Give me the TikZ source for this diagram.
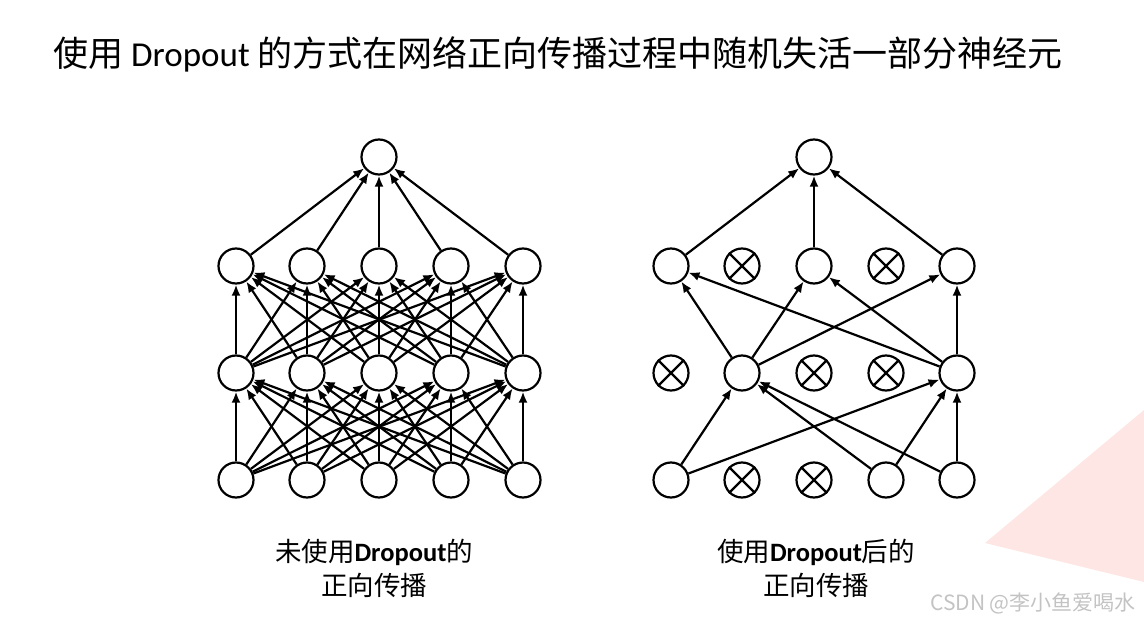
\documentclass[tikz,border=0pt]{standalone}
\usepackage{fontspec}
\setmainfont{Noto Sans CJK SC}
\newfontfamily\carl{Carlito}
\usetikzlibrary{arrows.meta}
\definecolor{pinkbg}{RGB}{253,230,227}
\definecolor{wmark}{RGB}{195,195,195}
\begin{document}
\begin{tikzpicture}[x=1pt,y=-1pt,
  neuron/.style={circle,draw,line width=2.2pt,minimum size=35pt,inner sep=0pt,fill=white},
  conn/.style={line width=2.2pt,-{Latex[length=11pt,width=9pt]}},
  xmark/.style={line width=2.2pt},
  titletext/.style={font=\fontsize{35}{40}\selectfont},
  captext/.style={font=\fontsize{26.5}{32}\selectfont},
  wmtext/.style={font=\fontsize{21}{25}\selectfont,text=wmark}
]
\useasboundingbox (0,0) rectangle (1144,623);
\fill[pinkbg] (985,543) -- (1144,410) -- (1144,582) -- cycle;

\node[titletext] (title) at (558,54) {使用 {\carl Dropout} 的方式在网络正向传播过程中随机失活一部分神经元};

% left network
\foreach \i/\x in {0/236,1/307,2/379,3/451,4/523} {
  \node[neuron] (LI\i) at (\x,480) {};
  \node[neuron] (LA\i) at (\x,373) {};
  \node[neuron] (LB\i) at (\x,266) {};
}
\node[neuron] (LO) at (379,157) {};
\foreach \i in {0,...,4} {
  \foreach \j in {0,...,4} {
    \draw[conn] (LI\i) -- (LA\j);
    \draw[conn] (LA\i) -- (LB\j);
  }
  \draw[conn] (LB\i) -- (LO);
}

% right network
\foreach \i/\x in {0/671,1/742,2/814,3/886,4/957} {
  \node[neuron] (RI\i) at (\x,480) {};
  \node[neuron] (RA\i) at (\x,373) {};
  \node[neuron] (RB\i) at (\x,266) {};
}
\node[neuron] (RO) at (814,157) {};
\foreach \n in {RI1,RI2,RA0,RA2,RA3,RB1,RB3} {
  \draw[xmark] (\n.north west) -- (\n.south east) (\n.north east) -- (\n.south west);
}
\foreach \s in {RI0,RI3,RI4} {
  \draw[conn] (\s) -- (RA1);
  \draw[conn] (\s) -- (RA4);
}
\foreach \s in {RA1,RA4} {
  \foreach \t in {RB0,RB2,RB4} {
    \draw[conn] (\s) -- (\t);
  }
}
\foreach \s in {RB0,RB2,RB4} {
  \draw[conn] (\s) -- (RO);
}

% captions
\node[captext] (capL1) at (374,552) {未使用{\carl\bfseries Dropout}的};
\node[captext] (capL2) at (374,585) {正向传播};
\node[captext] (capR1) at (816,552) {使用{\carl\bfseries Dropout}后的};
\node[captext] (capR2) at (816,585) {正向传播};

\node[wmtext] (wm) at (1033,603) {CSDN @李小鱼爱喝水};
\end{tikzpicture}
\end{document}
